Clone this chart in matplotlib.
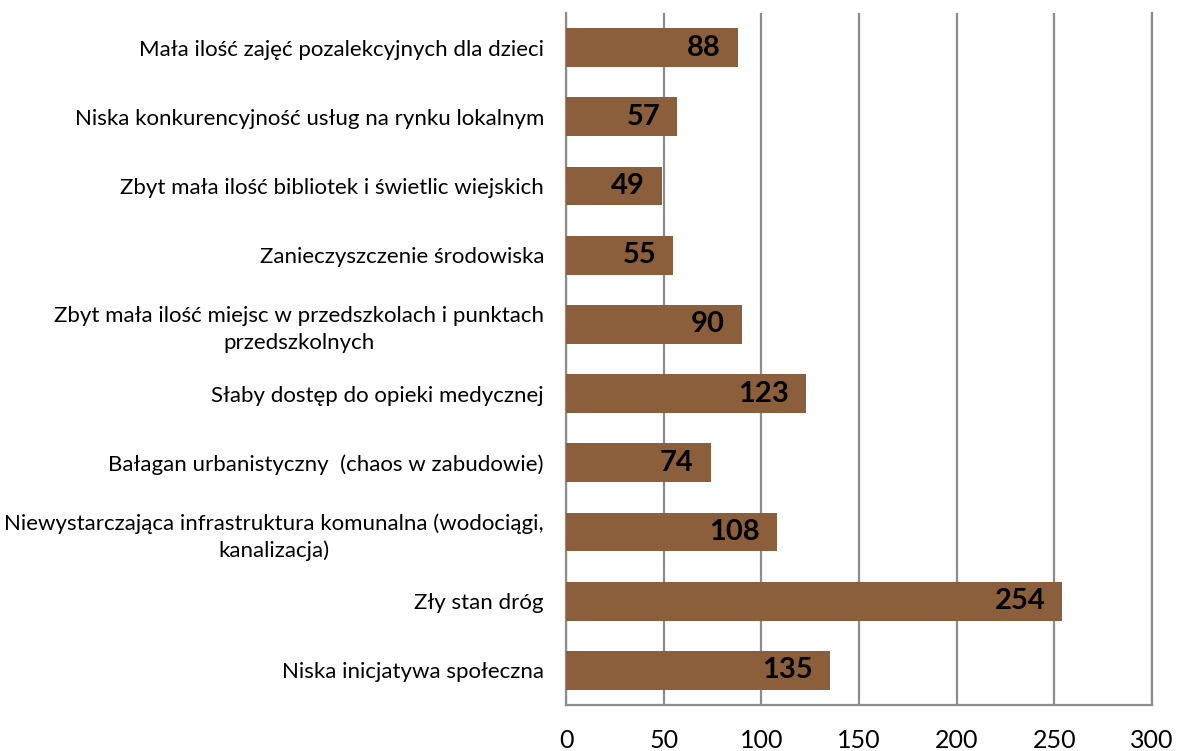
import numpy as np
import matplotlib
matplotlib.use('Agg')
import matplotlib.pyplot as plt
import matplotlib.transforms as mtransforms

plt.rcParams['font.family'] = ['Lato', 'DejaVu Sans']

# problems reported by respondents (top to bottom)
categories = [
    'Mała ilość zajęć pozalekcyjnych dla dzieci',
    'Niska konkurencyjność usług na rynku lokalnym',
    'Zbyt mała ilość bibliotek i świetlic wiejskich',
    'Zanieczyszczenie środowiska',
    'Zbyt mała ilość miejsc w przedszkolach i punktach\nprzedszkolnych',
    'Słaby dostęp do opieki medycznej',
    'Bałagan urbanistyczny  (chaos w zabudowie)',
    'Niewystarczająca infrastruktura komunalna (wodociągi,\nkanalizacja)',
    'Zły stan dróg',
    'Niska inicjatywa społeczna',
]
counts = [88, 57, 49, 55, 90, 123, 74, 108, 254, 135]
xticks = [0, 50, 100, 150, 200, 250, 300]

bar_color = '#8b5e3c'
grid_color = '#8c8c8c'

fig = plt.figure(figsize=[11.78, 7.51], dpi=100)
ax = fig.add_axes([566/1178, 1-705/751, (1152-566)/1178, (705-13)/751])

ypos = np.arange(len(categories))
bars = ax.barh(ypos, counts, height=0.56, color=bar_color, zorder=3)

for b, v in zip(bars, counts):
    ax.text(b.get_width() - 300*17/586, b.get_y() + b.get_height()/2, str(v),
            ha='right', va='center', fontsize=21, fontweight='bold',
            color='black', zorder=4)

ax.set_xlim(0, 300)
ax.set_ylim(len(categories) - 0.5, -0.5)
ax.set_xticks(xticks)
ax.set_xticklabels([str(t) for t in xticks], fontsize=18)
ax.set_yticks(ypos)
ax.set_yticklabels(categories, fontsize=16, ha='center', linespacing=1.4)

ax.xaxis.grid(True, color=grid_color, linewidth=1.6, zorder=0)
ax.tick_params(axis='both', length=0)
ax.tick_params(axis='x', pad=17)

ax.spines['top'].set_visible(False)
for s in ['left', 'bottom', 'right']:
    ax.spines[s].set_color(grid_color)
    ax.spines[s].set_linewidth(1.6)

fig.canvas.draw()
renderer = fig.canvas.get_renderer()
# centred multi-line labels: shift each so its right edge sits left of the axis
for lab in ax.get_yticklabels():
    bb = lab.get_window_extent(renderer)
    shift = (566 - 22) - bb.x1
    lab.set_transform(lab.get_transform() + mtransforms.Affine2D().translate(shift, 0))

fig.savefig('out.png', dpi=100)
